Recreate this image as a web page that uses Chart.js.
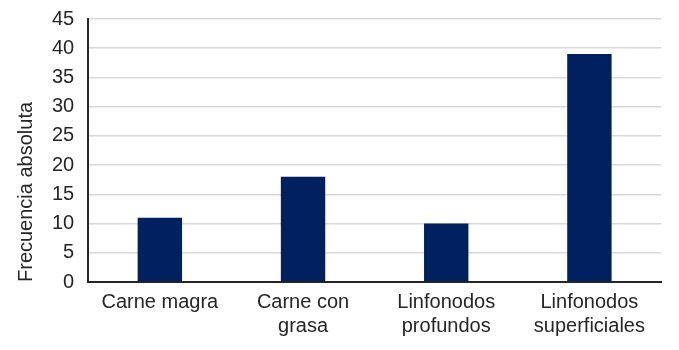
<!DOCTYPE html>
<html>
<head>
<meta charset="utf-8">
<script src="https://cdn.jsdelivr.net/npm/chart.js@4/dist/chart.umd.min.js"></script>
<style>
  html, body { margin: 0; padding: 0; background: #fff; }
  #wrap { width: 679px; height: 350px; }
</style>
</head>
<body>
<div id="wrap"><canvas id="canvas"></canvas></div>
<script>
// categories (multi-line labels) and counts
const categories = [
  ['Carne magra'],
  ['Carne con', 'grasa'],
  ['Linfonodos', 'profundos'],
  ['Linfonodos', 'superficiales']
];
const values = [11, 18, 10, 39];
const yTicks = [0, 5, 10, 15, 20, 25, 30, 35, 40, 45];

const font = "'Liberation Sans', Arial, sans-serif";

const ctx = document.getElementById('canvas').getContext('2d');
new Chart(ctx, {
  type: 'bar',
  data: {
    labels: categories,
    datasets: [{
      data: values,
      backgroundColor: '#002060',
      categoryPercentage: 1,
      barPercentage: 0.31
    }]
  },
  options: {
    responsive: true,
    maintainAspectRatio: false,
    animation: false,
    layout: { padding: { top: 19, right: 18, bottom: 4, left: 14 } },
    plugins: {
      legend: { display: false },
      tooltip: { enabled: false }
    },
    scales: {
      x: {
        grid: { display: false, drawTicks: false },
        border: { color: '#262626', width: 2 },
        ticks: {
          color: '#262626',
          font: { family: font, size: 20 },
          padding: 8,
          maxRotation: 0
        }
      },
      y: {
        min: 0,
        max: 45,
        afterBuildTicks: (axis) => { axis.ticks = yTicks.map(v => ({ value: v })); },
        afterFit: (axis) => { axis.paddingTop = 0; },
        grid: { color: '#d9d9d9', lineWidth: 1.5, drawTicks: false },
        border: { color: '#262626', width: 2 },
        ticks: {
          color: '#262626',
          font: { family: font, size: 20 },
          padding: 14
        },
        title: {
          display: true,
          text: 'Frecuencia absoluta',
          align: 'start',
          color: '#262626',
          font: { family: font, size: 20 },
          padding: { top: 0, bottom: 0 }
        }
      }
    }
  }
});
</script>
</body>
</html>
